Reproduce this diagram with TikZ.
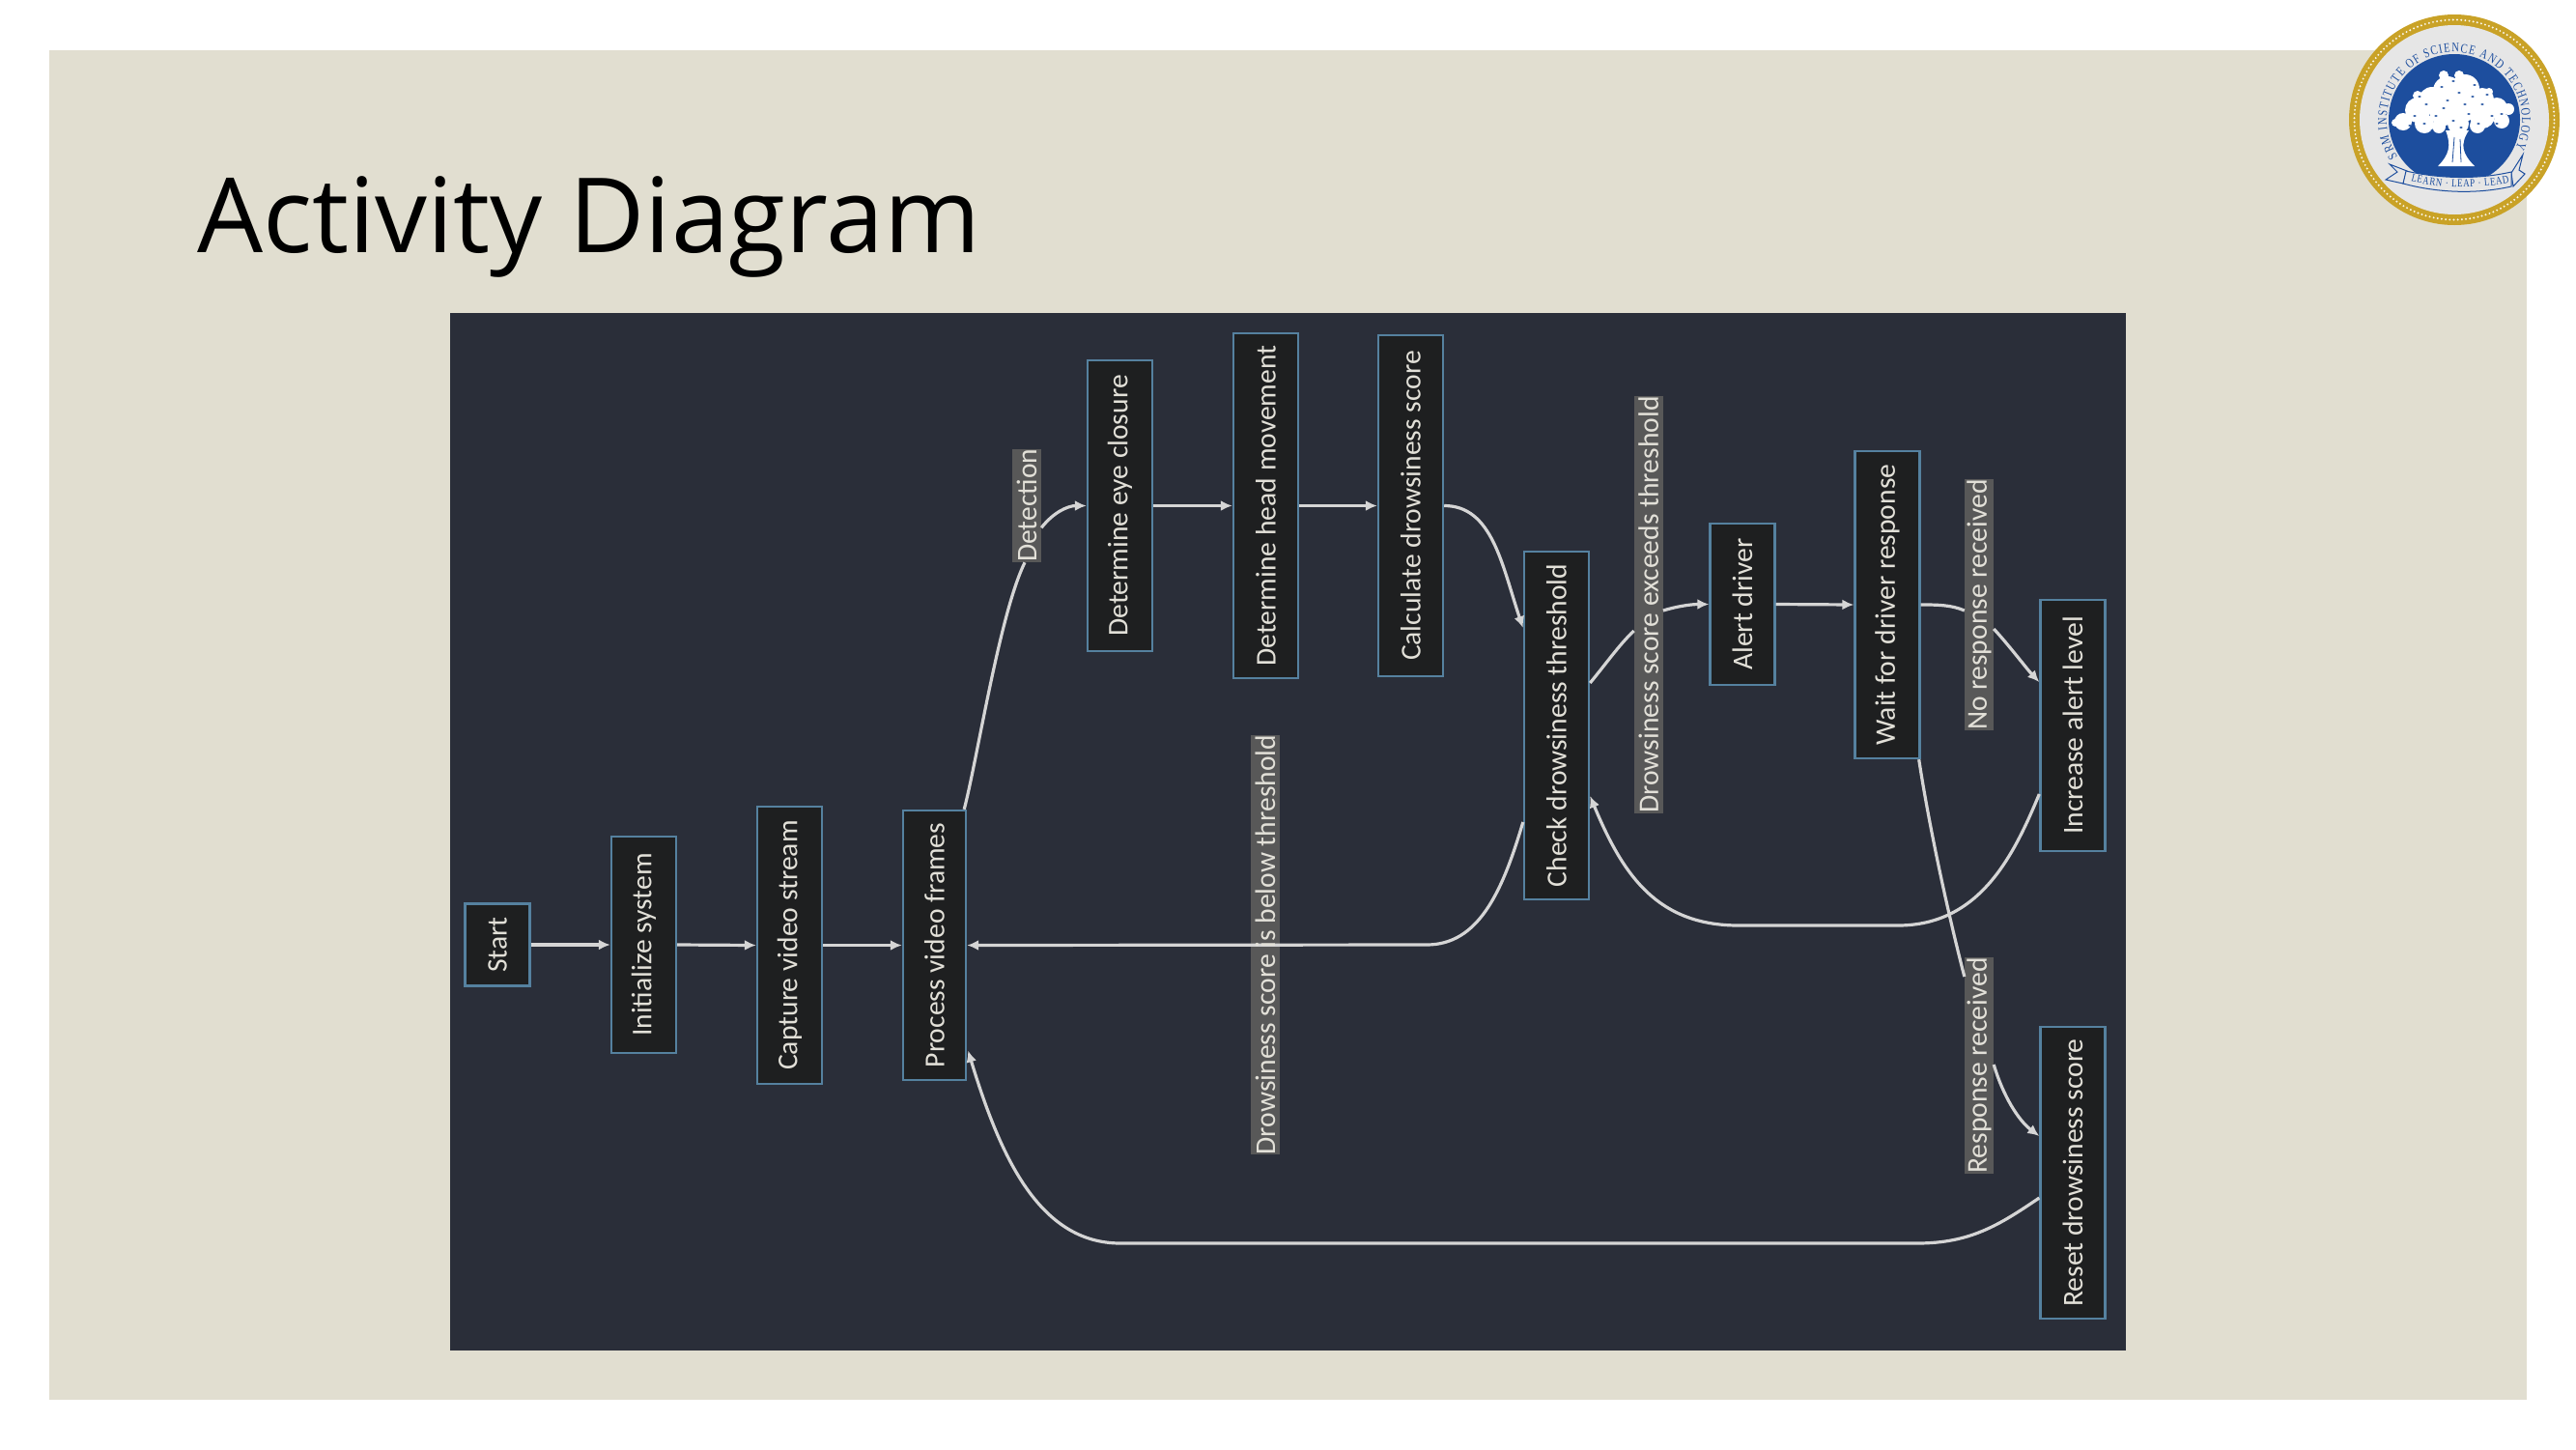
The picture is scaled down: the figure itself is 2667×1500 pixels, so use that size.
\documentclass[tikz,border=0pt]{standalone}
\usepackage{fontspec}
\usepackage{graphicx}
\setmainfont{Carlito}
\newfontfamily\titlefont{Open Sans}
\newfontfamily\logofont[FakeStretch=0.78]{Liberation Serif}
\usetikzlibrary{arrows.meta,calc,decorations.text}
\definecolor{slide}{HTML}{E1DED0}
\definecolor{panel}{HTML}{2A2E39}
\definecolor{boxfill}{HTML}{1E1F20}
\definecolor{boxline}{HTML}{55819F}
\definecolor{labelfill}{HTML}{585858}
\definecolor{inktext}{HTML}{E2E0D8}
\definecolor{edgecol}{HTML}{D5D5D5}
\definecolor{gold}{HTML}{C9A227}
\definecolor{sealblue}{HTML}{1D4E9E}
\definecolor{sealgrey}{HTML}{E6E6E6}
\tikzset{
  actbox/.style={draw=boxline,line width=2.4pt,fill=boxfill,text=inktext,inner sep=0pt,
    font=\fontsize{29.6}{30}\selectfont,minimum width=#1},
  actbox/.default=67pt,
  edgelabel/.style={fill=labelfill,text=inktext,inner sep=0pt,minimum width=30pt,
    font=\fontsize{29.6}{30}\selectfont},
  edge/.style={draw=edgecol,line width=3.2pt},
  flow/.style={edge,-{Latex[length=12pt,width=11pt]}},
}
\newcommand{\vt}[1]{\rotatebox{90}{#1}}
\begin{document}
\begin{tikzpicture}[x=1pt,y=-1pt]
\useasboundingbox (0,0) rectangle (2667,1500);
\fill[white] (0,0) rectangle (2667,1500);
\fill[slide] (51,52) rectangle (2616,1449);
\fill[panel] (466,324) rectangle (2201,1398);
\node[anchor=base west,inner sep=0pt,text=black,font=\titlefont\fontsize{107.5}{108}\selectfont] (title) at (204,261) {Activity Diagram};

% backing of the label that the edge runs over
\node[edgelabel,minimum height=434.5pt] (lbelow) at (1310,978) {};

% activity boxes
\node[actbox,minimum height=85pt]  (start) at (515,978)  {\vt{Start}};
\node[actbox,minimum height=224pt] (init)  at (666.5,978)  {\vt{Initialize system}};
\node[actbox,minimum height=287pt] (capt)  at (817.5,978.5){\vt{Capture video stream}};
\node[actbox=65pt,minimum height=279pt] (proc)  at (967.5,978.5){\vt{Process video frames}};
\node[actbox,minimum height=301pt] (eye)   at (1159.5,523.5){\vt{Determine eye closure}};
\node[actbox,minimum height=357pt] (head)  at (1310.5,523.5){\vt{Determine head movement}};
\node[actbox,minimum height=353pt] (calc)  at (1460.5,523.5){\vt{Calculate drowsiness score}};
\node[actbox,minimum height=360pt] (check) at (1611.5,751) {\vt{Check drowsiness threshold}};
\node[actbox,minimum height=167pt] (alert) at (1804,625.5) {\vt{Alert driver}};
\node[actbox,minimum height=318pt] (wait)  at (1954,626)   {\vt{Wait for driver response}};
\node[actbox,minimum height=260pt] (incr)  at (2146,751)   {\vt{Increase alert level}};
\node[actbox,minimum height=302pt] (reset) at (2146,1214)  {\vt{Reset drowsiness score}};

% edge labels
\node[edgelabel,minimum height=117.5pt] (ldet)  at (1063,523.3) {\vt{Detection}};
\node[edgelabel,minimum height=432pt]   (lexc)  at (1706.7,626) {\vt{Drowsiness score exceeds threshold}};
\node[edgelabel,minimum height=258pt]   (lno)   at (2049,626)   {\vt{No response received}};
\node[edgelabel,minimum height=222pt]   (lresp) at (2049,1103)  {\vt{Response received}};

% straight flows
\draw[flow] (start.east) -- (init.west);
\draw[flow] (init.east) -- (capt.west);
\draw[flow] (capt.east) -- (proc.west);
\draw[flow] (eye.east) -- (head.west);
\draw[flow] (head.east) -- (calc.west);
\draw[flow] (alert.east) -- (wait.west);

% curved flows
\draw[edge] ($(proc.north east)+(-3,0)$) .. controls (1012,785) and (1035,635) .. ($(ldet.south)+(-2,0)$);
\draw[flow] ($(ldet.east)+(0,23)$) .. controls (1090,531) and (1105,523.5) .. (eye.west);
\draw[flow] (calc.east) .. controls (1545,523.5) and (1555,585) .. ($(check.west)+(0,-101)$);
\draw[flow] ($(check.west)+(0,100)$) .. controls (1555,925) and (1530,978) .. (1477,978) -- (proc.east);
\draw[edge] ($(check.east)+(0,-44)$) .. controls (1662,688) and (1676,668) .. ($(lexc.west)+(0,27)$);
\draw[flow] ($(lexc.east)+(0,6)$) .. controls (1735,628) and (1750,625.5) .. (alert.west);
\draw[edge] (wait.east) .. controls (2005,626) and (2020,626) .. ($(lno.west)+(0,6)$);
\draw[flow] ($(lno.east)+(0,25)$) .. controls (2080,668) and (2098,692) .. ($(incr.west)+(0,-45)$);
\draw[edge] ($(wait.south east)+(-2,0)$) .. controls (1998,860) and (2018,950) .. ($(lresp.west)+(0,-92)$);
\draw[flow] ($(lresp.east)+(0,-1)$) .. controls (2074,1135) and (2090,1160) .. ($(reset.west)+(0,-38)$);
\draw[flow] ($(incr.west)+(0,71)$) .. controls (2085,885) and (2050,958) .. (1965,958) -- (1800,958)
  .. controls (1715,958) and (1680,905) .. ($(check.east)+(0,73)$);
\draw[flow] ($(reset.west)+(0,26)$) .. controls (2070,1268) and (2040,1287) .. (1985,1287) -- (1160,1287)
  .. controls (1075,1287) and (1035,1195) .. ($(proc.east)+(1,109)$);

% text of the label, above the edge
\node[text=inktext,inner sep=0pt,font=\fontsize{29.6}{30}\selectfont] (lbelowtext) at (lbelow.center) {\vt{Drowsiness score is below threshold}};

% seal
\coordinate (sc) at (2541,124);
\fill[gold] (sc) circle[radius=109pt];
\fill[sealgrey] (sc) circle[radius=98pt];
\draw[white!90!gold,line width=2.2pt,line cap=round,dash pattern=on 0pt off 4.2pt] (sc) circle[radius=103.5pt];
\fill[sealblue] (sc) circle[radius=68pt];
% tree canopy
\foreach \cx/\cy/\cr in {2488/126/9,2503/114/13,2518/104/14,2534/94/15,2552/92/15,2570/103/12,2585/112/11,2597/113/6,2590/125/8,2570/120/13,2550/110/16,2530/115/15,2510/128/10,2545/128/11,2565/130/8,2480/127/4,2530/78/5,2546/78/5,2503/99/5,2525/131/7,2577/95/4}
  {\fill[white] (\cx,\cy) circle[radius=\cr pt];}
\foreach \cx/\cy in {2500/120,2512/108,2522/120,2534/104,2546/96,2556/118,2570/108,2580/120,2540/125,2528/90,2560/100,2510/128,2566/128,2590/118,2548/132,2518/135,2495/130,2505/100,2540/84,2552/108,2575/98,2585/128,2530/112,2562/88}
  {\fill[sealblue] (\cx,\cy) ellipse[x radius=1.8pt,y radius=1pt];}
% trunk
\fill[white] (2532,135) .. controls (2538,150) and (2536,160) .. (2524,172) -- (2562,172)
  .. controls (2550,160) and (2546,150) .. (2556,135) -- cycle;
\draw[sealblue,line width=.8pt] (2541,142) -- (2539,168) (2547,144) -- (2548,168);
% ribbon
\filldraw[fill=sealgrey,draw=sealblue,line width=1pt] (2474,170) -- (2492,177) -- (2488,190) -- (2470,186) -- (2482,178) -- cycle;
\filldraw[fill=sealgrey,draw=sealblue,line width=1pt] (2612,160) -- (2600,179) -- (2602,193) -- (2614,180) -- (2608,176) -- cycle;
\filldraw[fill=sealgrey,draw=sealblue,line width=1pt] (2491,177) .. controls (2525,185) and (2565,186) .. (2600,178)
  -- (2600,193) .. controls (2565,201) and (2525,200) .. (2488,190) -- cycle;
\path[decorate,decoration={text along path,text align={fit to path},
  text={|\logofont\fontsize{11.5}{12}\selectfont\color{sealblue}|LEARN · LEAP · LEAD}}]
  (2496,187.5) .. controls (2525,195) and (2565,196) .. (2598,189);
\path[decorate,decoration={text along path,text align={fit to path},
  text={|\logofont\fontsize{13.5}{14}\selectfont\color{sealblue}|SRM INSTITUTE OF SCIENCE AND TECHNOLOGY}}]
  ($(sc)+(213:70pt)$) arc[start angle=213,end angle=-25,radius=70pt];
\end{tikzpicture}
\end{document}
